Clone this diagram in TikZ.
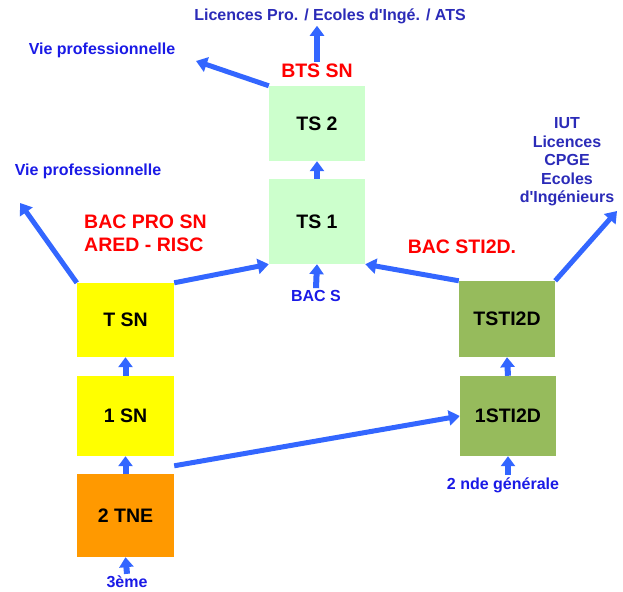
\documentclass[tikz,border=0pt]{standalone}
\usepackage{fontspec}
\newfontfamily\arial{Liberation Sans}
\usetikzlibrary{arrows.meta,calc}
\definecolor{bleufl}{HTML}{3366FF}
\definecolor{bleulbl}{HTML}{1A1AE6}
\definecolor{bleufonce}{HTML}{2B2BB8}
\definecolor{vertclair}{HTML}{CCFFCC}
\definecolor{jaune}{HTML}{FFFF00}
\definecolor{orange}{HTML}{FF9900}
\definecolor{olive}{HTML}{96BB5C}
\begin{document}
\begin{tikzpicture}[x=1pt,y=1pt,
  box/.style={minimum width=96pt,inner sep=0pt,font=\arial\bfseries\fontsize{19.5}{22}\selectfont},
  titre/.style={text=red,font=\arial\bfseries\fontsize{19.5}{23}\selectfont,inner sep=2pt},
  lbl/.style={text=bleulbl,font=\arial\bfseries\fontsize{16}{18.5}\selectfont,inner sep=2pt},
  fl/.style={draw=bleufl,line width=5pt,-{Triangle[width=15pt,length=11pt]}},
  fc/.style={draw=bleufl,line width=6pt,-{Triangle[width=14pt,length=10pt]}}]
  \useasboundingbox (0,0) rectangle (623,591);

%% boxes
\node (TS2) at (317,467.5) [box,fill=vertclair,minimum height=75pt] {TS 2};
\node (TS1) at (317,369.5) [box,fill=vertclair,minimum height=85pt] {TS 1};
\node (TSN) at (125.5,271) [box,fill=jaune,minimum width=97pt,minimum height=74pt] {T SN};
\node (SN1) at (125.5,175) [box,fill=jaune,minimum width=97pt,minimum height=80pt] {1 SN};
\node (TNE2) at (125.5,75.5) [box,fill=orange,minimum width=97pt,minimum height=83pt] {2 TNE};
\node (TSTI) at (507,272) [box,fill=olive,minimum height=76pt] {TSTI2D};
\node (STI1) at (508,175) [box,fill=olive,minimum height=80pt] {1STI2D};

%% labels
\node (LPRO) at (330,575) [lbl,text=bleufonce] {Licences Pro. / Ecoles d'Ingé. / ATS};
\node (BTS) at (317,520) [titre] {BTS SN};
\node (VIE1) at (102,541) [lbl] {Vie professionnelle};
\node (VIE2) at (88,420) [lbl] {Vie professionnelle};
\node (BACPRO) at (82,358) [titre,anchor=west,align=left] {BAC PRO SN\\ARED - RISC};
\node (BACSTI) at (462,344) [titre] {BAC STI2D.};
\node (UNIV) at (567,429) [lbl,text=bleufonce,align=center] {IUT\\Licences\\CPGE\\Ecoles\\d'Ingénieurs};
\node (BACS) at (316,295) [lbl] {BAC S};
\node (STI2) at (503,106) [lbl] {2 nde générale};
\node (TROIS) at (127,9) [lbl] {3ème};

\coordinate (VIEA) at (196,530);
\coordinate (VIEB) at (20,388);
\coordinate (UNIVA) at (617,380);

%% arrows
\draw[fc] (BTS.north) -- (BTS.north |- LPRO.south);
\draw[fl] (TS2.north west) -- (VIEA);
\draw[fc] (TS1.north) -- (TS2.south);
\draw[fc] (BACS.north) -- (TS1.south);
\draw[fl] (TSN.north west) -- (VIEB);
\draw[fl] (TSN.north east) -- (TS1.south west);
\draw[fl] (TSTI.north west) -- (TS1.south east);
\draw[fl] (TSTI.north east) -- (UNIVA);
\draw[fc] (SN1.north) -- (TSN.south);
\draw[fc] (TNE2.north) -- (SN1.south);
\draw[fc] (TROIS.north) -- (TNE2.south);
\draw[fl] ($(TNE2.north east)+(0,8)$) -- (STI1.west);
\draw[fc] (STI1.north) -- (TSTI.south);
\draw[fc] (STI1.south |- STI2.north) -- (STI1.south);

\end{tikzpicture}
\end{document}
